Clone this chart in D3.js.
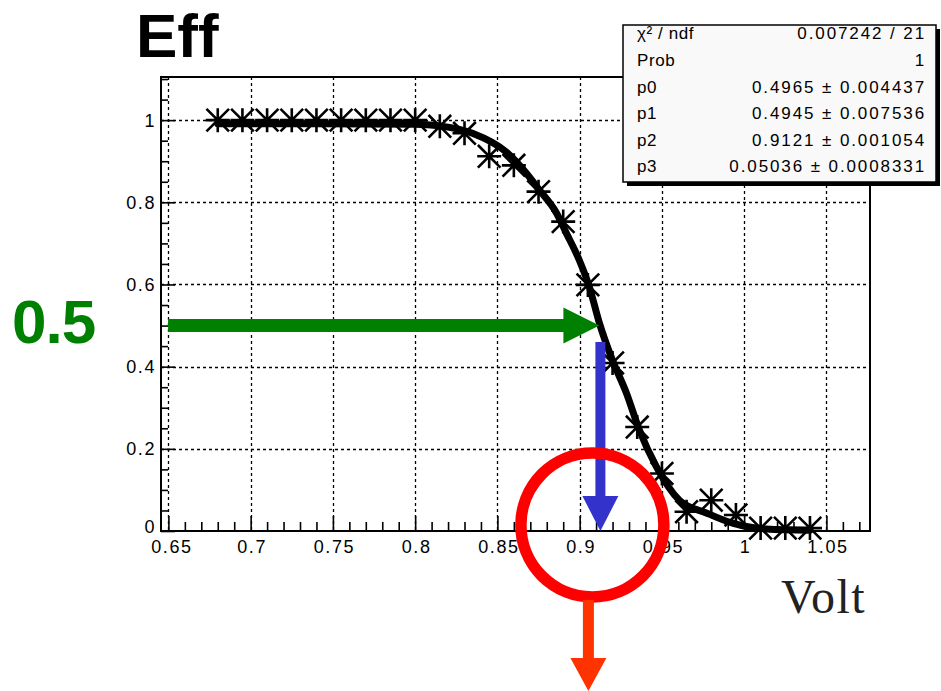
<!DOCTYPE html>
<html>
<head>
<meta charset="utf-8">
<script src="https://cdn.jsdelivr.net/npm/d3@7/dist/d3.min.js"></script>
<style>
  html, body { margin: 0; padding: 0; background: #fff; }
  svg { display: block; }
</style>
</head>
<body>
<svg id="chart" width="941" height="691" font-family="'Liberation Sans', Arial, Helvetica, sans-serif"></svg>
<script>
// ---- data ----
const voltValues = [0.68, 0.695, 0.71, 0.725, 0.74, 0.755, 0.77, 0.785, 0.80,
                    0.815, 0.83, 0.845, 0.86, 0.875, 0.89, 0.905, 0.92, 0.935,
                    0.95, 0.965, 0.98, 0.995, 1.01, 1.025, 1.04];
const effValues  = [1, 1, 1, 1, 1, 1, 1, 1, 1,
                    0.985, 0.968, 0.912, 0.89, 0.826, 0.753, 0.599, 0.409, 0.253,
                    0.140, 0.047, 0.075, 0.039, 0.007, 0.007, 0.007];

// fitted curve
const fitVolt = [0.68, 0.74, 0.80, 0.8147, 0.8348, 0.8555, 0.8676, 0.8755, 0.8859,
                 0.8919, 0.8998, 0.9059, 0.912, 0.9199, 0.9284, 0.9363, 0.9467,
                 0.9606, 0.977, 0.9929, 1.0135, 1.04];
const fitEff  = [0.991, 0.991, 0.99, 0.986, 0.968, 0.922, 0.871, 0.83, 0.774,
                 0.725, 0.659, 0.594, 0.506, 0.416, 0.336, 0.246, 0.156,
                 0.075, 0.044, 0.019, 0.005, 0.002];

const xMajorTicks = [0.65, 0.7, 0.75, 0.8, 0.85, 0.9, 0.95, 1, 1.05];
const xTickLabels = ["0.65", "0.7", "0.75", "0.8", "0.85", "0.9", "0.95", "1", "1.05"];
const yMajorTicks = [0, 0.2, 0.4, 0.6, 0.8, 1];
const yTickLabels = ["0", "0.2", "0.4", "0.6", "0.8", "1"];

const statNames  = ["χ² / ndf", "Prob", "p0", "p1", "p2", "p3"];
const statValues = ["0.007242 / 21", "1", "0.4965 ± 0.004437", "0.4945 ± 0.007536",
                    "0.9121 ± 0.001054", "0.05036 ± 0.0008331"];

const thresholdVolt = 0.912;   // where the curve crosses 0.5
const halfLevel = 0.5;

// ---- layout ----
const svg = d3.select("#chart");
const W = 941, H = 691;
const SANS = "'Liberation Sans', Arial, Helvetica, sans-serif";
const SERIF = "'Liberation Serif', 'Times New Roman', serif";
const frame = { left: 161, right: 870, top: 77, bottom: 531 };

const x = d3.scaleLinear().domain([0.6455, 1.0765]).range([frame.left, frame.right]);
const y = d3.scaleLinear().domain([0, 1.105]).range([frame.bottom, frame.top]);

svg.append("rect").attr("width", W).attr("height", H).attr("fill", "#fff");

// grid
const grid = svg.append("g").attr("stroke", "#000").attr("stroke-width", 1.3)
  .attr("stroke-dasharray", "3,3").attr("fill", "none");
grid.selectAll("line.v").data(xMajorTicks).join("line")
  .attr("x1", d => Math.round(x(d)) + 0.5).attr("x2", d => Math.round(x(d)) + 0.5)
  .attr("y1", frame.top).attr("y2", frame.bottom);
grid.selectAll("line.h").data(yMajorTicks.filter(d => d > 0)).join("line")
  .attr("y1", d => Math.round(y(d)) + 0.5).attr("y2", d => Math.round(y(d)) + 0.5)
  .attr("x1", frame.left).attr("x2", frame.right);

// x axis
const xMinor = d3.range(65, 108).map(d => d / 100).filter(d => !xMajorTicks.some(m => Math.abs(m - d) < 1e-6));
const xAxis = d3.axisBottom(x).tickValues(xMajorTicks)
  .tickFormat((d, i) => xTickLabels[i]).tickSize(-15).tickPadding(9);
const gx = svg.append("g").attr("transform", `translate(0,${frame.bottom})`).call(xAxis);
const xAxisMinor = d3.axisBottom(x).tickValues(xMinor).tickFormat("").tickSize(-9);
const gx2 = svg.append("g").attr("transform", `translate(0,${frame.bottom})`).call(xAxisMinor);

// y axis
const yMinor = d3.range(0, 23).map(d => d * 0.05).filter(d => d < 1.105 && !yMajorTicks.some(m => Math.abs(m - d) < 1e-6));
const yAxis = d3.axisLeft(y).tickValues(yMajorTicks)
  .tickFormat((d, i) => yTickLabels[i]).tickSize(-14).tickPadding(5);
const gy = svg.append("g").attr("transform", `translate(${frame.left},0)`).call(yAxis);
const yAxisMinor = d3.axisLeft(y).tickValues(yMinor).tickFormat("").tickSize(-7);
const gy2 = svg.append("g").attr("transform", `translate(${frame.left},0)`).call(yAxisMinor);

[gx, gx2, gy, gy2].forEach(g => {
  g.attr("font-family", SANS).attr("font-size", 18);
  g.select(".domain").remove();
  g.selectAll(".tick line").attr("stroke", "#000").attr("stroke-width", 1.6);
  g.selectAll("text").attr("fill", "#000").attr("letter-spacing", 1.6);
});
gy.selectAll("text").attr("dy", (d) => d === 0 ? "0.1em" : "0.34em");
gx.selectAll("text").attr("dx", (d) => d === 0.65 ? "3" : "1");

// frame
svg.append("rect")
  .attr("x", frame.left).attr("y", frame.top)
  .attr("width", frame.right - frame.left).attr("height", frame.bottom - frame.top)
  .attr("fill", "none").attr("stroke", "#000").attr("stroke-width", 2);

// markers (asterisk)
const pts = voltValues.map((v, i) => [v, effValues[i]]);
const r = 12, rd = 11.3;
const star = `M${-r},0L${r},0M0,${-r}L0,${r}M${-rd},${-rd}L${rd},${rd}M${-rd},${rd}L${rd},${-rd}`;
svg.append("g").selectAll("path").data(pts).join("path")
  .attr("transform", d => `translate(${x(d[0])},${y(d[1])})`)
  .attr("d", star).attr("stroke", "#000").attr("stroke-width", 2.6).attr("fill", "none");

// fit curve
const fitPts = fitVolt.map((v, i) => [v, fitEff[i]]);
svg.append("path").datum(fitPts)
  .attr("d", d3.line().x(d => x(d[0])).y(d => y(d[1])).curve(d3.curveMonotoneX))
  .attr("fill", "none").attr("stroke", "#000").attr("stroke-width", 7)
  .attr("stroke-linejoin", "round").attr("stroke-linecap", "round");

// stats box
const box = { x: 623, y: 25, w: 313, h: 157 };
svg.append("rect").attr("x", box.x + 4).attr("y", box.y + 4).attr("width", box.w).attr("height", box.h).attr("fill", "#000");
svg.append("rect").attr("x", box.x).attr("y", box.y).attr("width", box.w).attr("height", box.h)
  .attr("fill", "#f9f9f9").attr("stroke", "#000").attr("stroke-width", 1.5);
const rowY = d3.scaleLinear().domain([0, 5]).range([box.y + 8.5, box.y + 141.5]);
const st = svg.append("g").attr("font-size", 17).attr("fill", "#000").attr("font-family", SANS);
st.selectAll("text.n").data(statNames).join("text")
  .attr("x", 637).attr("y", (d, i) => rowY(i)).attr("dy", "0.35em")
  .attr("letter-spacing", 0.6).text(d => d);
st.selectAll("text.v").data(statValues).join("text")
  .attr("x", 926).attr("y", (d, i) => rowY(i)).attr("dy", "0.35em")
  .attr("text-anchor", "end").attr("letter-spacing", 1.9).text(d => d);

// arrows
function hArrow(x0, x1, yc, shaft, headL, headW, color) {
  svg.append("path").attr("fill", color)
    .attr("d", `M${x0},${yc - shaft / 2}L${x1 - headL},${yc - shaft / 2}L${x1 - headL},${yc - headW / 2}L${x1},${yc}L${x1 - headL},${yc + headW / 2}L${x1 - headL},${yc + shaft / 2}L${x0},${yc + shaft / 2}Z`);
}
function vArrow(xc, y0, y1, shaft, headL, headW, color) {
  svg.append("path").attr("fill", color)
    .attr("d", `M${xc - shaft / 2},${y0}L${xc - shaft / 2},${y1 - headL}L${xc - headW / 2},${y1 - headL}L${xc},${y1}L${xc + headW / 2},${y1 - headL}L${xc + shaft / 2},${y1 - headL}L${xc + shaft / 2},${y0}Z`);
}
hArrow(x(0.6498), x(thresholdVolt), y(halfLevel), 13, 36, 36, "#008000");
vArrow(x(thresholdVolt) + 1, y(0.46), y(0), 10, 35, 36, "#3333CC");

// red circle
const cx = x(thresholdVolt) - 7, cy = y(0.0146);
svg.append("ellipse").attr("cx", cx).attr("cy", cy).attr("rx", 71.5).attr("ry", 72)
  .attr("fill", "none").attr("stroke", "#FF0000").attr("stroke-width", 11.5);
vArrow(cx - 4, cy + 75, H, 11, 33, 36, "#FF3300");

// texts
svg.append("text").attr("x", 136).attr("y", 57).attr("font-size", 62).attr("font-weight", "bold")
  .attr("font-family", SANS).attr("fill", "#000").text("Eff");
svg.append("text").attr("x", 12).attr("y", 343).attr("font-size", 62).attr("font-weight", "bold")
  .attr("font-family", SANS).attr("fill", "#008000").attr("letter-spacing", -1).text("0.5");
svg.append("text").attr("x", 781).attr("y", 613).attr("font-size", 48)
  .attr("font-family", SERIF).attr("letter-spacing", 1.5).attr("fill", "#222").text("Volt");
</script>
</body>
</html>
